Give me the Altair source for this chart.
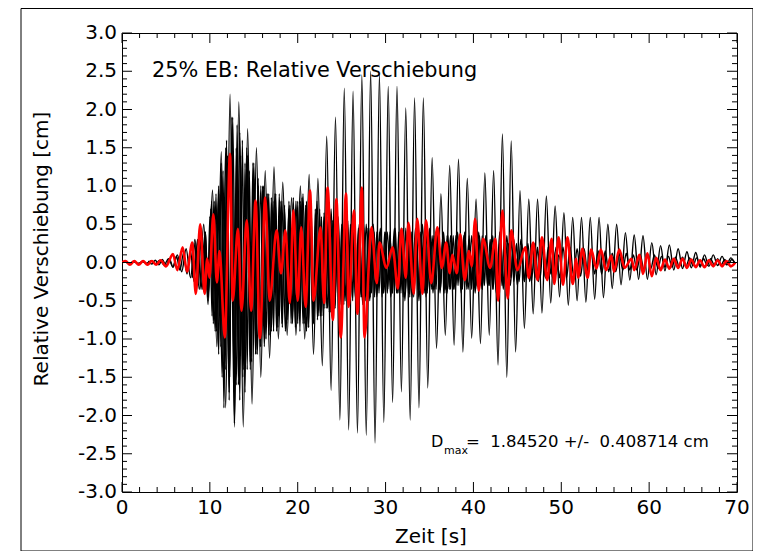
import altair as alt
import pandas as pd

FONT = "DejaVu Sans"

# ---- main (large amplitude) black trace: alternating extrema, half-period spacing
A_T0, A_HALF = 0.3, 0.5
A_VALS = [
    0.01, -0.01, 0.01, -0.01, 0.01, -0.01, 0.02, -0.02, 0.03, -0.03,
    0.05, -0.06, 0.1, -0.12, 0.18, -0.2, 0.3, -0.35, 0.5, -0.55,
    0.95, -1.1, 1.45, -1.9, 2.2, -2.15, 2.1, -2.15, 1.75, -1.85,
    1.5, -1.5, 1.2, -1.25, 1.25, -1.0, 1.05, -0.95, 0.85, -0.95,
    1.0, -1.0, 1.15, -1.2, 1.1, -1.35, 1.65, -1.67, 1.9, -2.06,
    2.28, -2.19, 2.24, -2.23, 2.45, -2.26, 2.5, -2.36, 2.46, -2.09,
    2.3, -1.83, 2.3, -1.69, 2.02, -2.06, 2.15, -1.9, 2.15, -1.64,
    1.37, -1.12, 0.9, -0.95, 1.27, -1.08, 1.35, -1.17, 1.1, -0.99,
    0.83, -1.06, 1.17, -0.95, 1.2, -1.34, 1.68, -1.5, 1.59, -1.17,
    0.94, -0.86, 0.83, -0.67, 0.83, -0.66, 0.87, -0.53, 0.74, -0.45,
    0.65, -0.56, 0.59, -0.5, 0.59, -0.52, 0.59, -0.48, 0.59, -0.46,
    0.5, -0.34, 0.5, -0.29, 0.39, -0.23, 0.36, -0.22, 0.35, -0.22,
    0.26, -0.16, 0.22, -0.11, 0.23, -0.1, 0.18, -0.08, 0.14, -0.07,
    0.13, -0.06, 0.1, -0.05, 0.1, -0.04, 0.08, -0.03, 0.06, -0.02,
]

# ---- second black trace
B_T0, B_HALF = 3.0, 0.4
B_VALS = [
    0.02, -0.02, 0.03, -0.03, 0.04, -0.04, 0.05, -0.06, 0.08, -0.1,
    0.12, -0.15, 0.15, -0.25, 0.3, -0.35, 0.35, -0.45, 0.8, -0.9,
    1.0, -1.5, 1.5, -1.7, 1.9, -1.6, 1.7, -1.4, 1.5, -1.4,
    1.3, -1.2, 1.0, -1.1, 0.9, -0.8, 0.9, -0.7, 0.8, -0.9,
    0.7, -0.8, 0.8, -0.7, 0.9, -0.9, 0.7, -0.8, 0.8, -0.7,
    0.6, -0.6, 0.7, -0.6, 0.6, -0.6, 0.55, -0.5, 0.6, -0.5,
    0.5, -0.55, 0.5, -0.5, 0.5, -0.45, 0.45, -0.4, 0.4, -0.45,
    0.45, -0.4, 0.45, -0.5, 0.5, -0.45, 0.45, -0.5, 0.5, -0.45,
    0.45, -0.4, 0.4, -0.4, 0.4, -0.4, 0.35, -0.35, 0.4, -0.4,
    0.4, -0.35, 0.35, -0.4, 0.4, -0.35, 0.35, -0.3, 0.35, -0.4,
    0.4, -0.35, 0.35, -0.3, 0.3, -0.3, 0.3, -0.25, 0.25, -0.25,
    0.25, -0.25, 0.25, -0.2, 0.2, -0.2, 0.2, -0.2, 0.2, -0.2,
    0.2, -0.18, 0.18, -0.18, 0.18, -0.15, 0.15, -0.15, 0.15, -0.15,
    0.15, -0.12, 0.12, -0.12, 0.12, -0.1, 0.12, -0.1, 0.1, -0.1,
    0.1, -0.1, 0.1, -0.08, 0.1, -0.08, 0.08, -0.06, 0.08, -0.06,
    0.07, -0.05, 0.07, -0.05, 0.06, -0.04, 0.06, -0.04, 0.05, -0.04,
    0.05, -0.03, 0.05, -0.03, 0.04, -0.03, 0.04, -0.02,
]

# ---- third black trace
C_T0, C_HALF = 8.0, 0.3
C_VALS = [
    -0.2, 0.25, -0.3, 0.3, -0.35, 0.4, -0.5, 0.7, -0.8, 0.9,
    -1.2, 1.3, -1.9, 1.6, -1.8, 1.9, -2.1, 1.8, -1.8, 1.6,
    -1.7, 1.4, -1.3, 1.3, -1.2, 1.1, -1.1, 1.0, -1.0, 0.9,
    -0.9, 0.8, -0.9, 0.9, -0.8, 0.7, -0.75, 0.75, -0.7, 0.7,
    -0.8, 0.8, -0.8, 0.75, -0.85, 0.8, -0.7, 0.7, -0.7, 0.6,
    -0.6, 0.6, -0.65, 0.55, -0.6, 0.6, -0.55, 0.5, -0.5, 0.55,
    -0.5, 0.5, -0.5, 0.45, -0.45, 0.5, -0.45, 0.45, -0.4, 0.4,
    -0.4, 0.4, -0.45, 0.4, -0.4, 0.35, -0.4, 0.45, -0.4, 0.4,
    -0.45, 0.45, -0.4, 0.4, -0.45, 0.4, -0.35, 0.35, -0.4, 0.4,
    -0.35, 0.35, -0.35, 0.4, -0.35, 0.3, -0.35, 0.35, -0.35, 0.35,
    -0.3, 0.3, -0.35, 0.35, -0.3, 0.3, -0.35, 0.35, -0.3, 0.35,
    -0.35, 0.3, -0.3, 0.3, -0.35, 0.35, -0.3, 0.3, -0.3, 0.25,
    -0.3, 0.3, -0.25, 0.25, -0.25, 0.25, -0.25, 0.2, -0.25, 0.25,
    -0.2, 0.2, -0.2, 0.2, -0.2, 0.2, -0.15, 0.15, -0.15, 0.1,
    -0.05,
]

# ---- fourth black trace (fast, fills the dense band)
D_T0, D_HALF = 9.0, 0.25
D_VALS = [
    0.3, -0.35, 0.4, -0.45, 0.6, -0.7, 0.8, -0.9, 0.9, -1.1,
    1.2, -1.4, 1.4, -1.5, 1.6, -1.7, 1.5, -1.6, 1.4, -1.5,
    1.3, -1.4, 1.2, -1.3, 1.1, -1.2, 1.0, -1.1, 1.0, -1.0,
    0.9, -0.95, 0.85, -0.9, 0.9, -0.85, 0.8, -0.85, 0.75, -0.8,
    0.8, -0.8, 0.85, -0.85, 0.8, -0.9, 0.85, -0.8, 0.8, -0.85,
    0.75, -0.8, 0.7, -0.75, 0.7, -0.7, 0.65, -0.6, 0.6, -0.65,
    0.55, -0.6, 0.55, -0.55, 0.5, -0.55, 0.5, -0.5, 0.5, -0.5,
    0.45, -0.5, 0.45, -0.45, 0.45, -0.5, 0.45, -0.45, 0.4, -0.45,
    0.4, -0.4, 0.35, -0.4, 0.4, -0.35, 0.4, -0.4, 0.35, -0.4,
    0.4, -0.4, 0.45, -0.4, 0.4, -0.45, 0.4, -0.4, 0.45, -0.4,
    0.4, -0.4, 0.35, -0.4, 0.4, -0.35, 0.35, -0.35, 0.4, -0.35,
    0.35, -0.4, 0.35, -0.35, 0.3, -0.35, 0.35, -0.3, 0.35, -0.35,
    0.3, -0.35, 0.35, -0.3, 0.3, -0.35, 0.3, -0.3, 0.35, -0.3,
    0.3, -0.3, 0.3, -0.35, 0.3, -0.3, 0.25, -0.3, 0.3, -0.25,
    0.25, -0.2, 0.15, -0.1, 0.05,
]

# ---- red trace (times and values of extrema)
R_T = [0.0, 0.4, 0.9, 1.4, 1.9, 2.4, 2.9, 3.4, 3.9, 4.4, 5.0, 5.8, 6.3, 6.9, 7.4,
       8.0, 8.4, 8.9, 9.4, 9.7, 9.95, 10.4, 10.8, 11.1, 11.7, 12.3, 12.6, 13.2, 13.6,
       14.2, 14.7, 15.2, 15.7, 16.3, 16.8, 17.6, 18.1, 18.6, 19.1, 19.5, 20.0, 20.4,
       20.9, 21.4, 21.8, 22.6, 23.0, 23.4, 24.0, 24.4, 24.9, 25.5, 25.8, 26.4, 26.8,
       27.3, 27.6, 28.4, 29.0, 29.3, 30.1, 30.8, 31.4, 31.8, 32.3, 32.6, 33.2, 33.6,
       34.2, 34.6, 35.2, 35.9, 36.4, 36.9, 37.3, 37.6, 38.1, 38.5, 39.0, 39.5, 39.8,
       40.2, 40.6, 41.1, 41.9, 42.5, 42.8, 43.3, 43.9, 44.3, 45.0, 45.9, 46.3, 46.8,
       47.3, 47.8, 48.4, 48.9, 49.2, 49.7, 50.2, 50.7, 51.3, 51.7, 51.9, 52.4, 53.0,
       53.4, 54.0, 54.5, 55.1, 55.7, 56.0, 56.6, 57.2, 58.0, 58.3, 58.9, 59.3, 59.8,
       60.3, 60.8, 61.3, 61.8, 62.3, 62.8, 63.3, 63.8, 64.3, 64.8, 65.3, 65.8, 66.3,
       66.8, 67.3, 67.8, 68.3, 68.8, 69.3, 69.8]
R_V = [0.0, 0.02, -0.03, 0.02, -0.03, 0.02, -0.03, 0.02, -0.03, 0.03, -0.05, 0.11, -0.1, 0.2, -0.12,
       0.26, -0.41, 0.5, -0.41, 0.05, -0.2, 0.63, -0.26, 0.15, -0.98, 1.42, -0.5, 0.44, -0.63,
       0.55, -0.63, 0.81, -0.99, 0.85, -0.5, 0.42, -0.14, 0.42, -0.53, 0.68, -0.5, 0.46,
       -0.58, 0.94, -0.5, 0.46, -0.53, 0.98, -0.75, 0.83, -0.98, 0.9, -0.58, 0.68, -0.67,
       0.98, -0.98, 0.46, -0.27, 0.26, -0.07, 0.2, -0.34, 0.44, -0.2, 0.52, -0.41, 0.57,
       -0.41, 0.55, -0.27, 0.46, -0.07, 0.26, -0.14, 0.1, -0.14, 0.37, -0.23, 0.15, -0.05,
       0.57, -0.37, 0.31, -0.07, 0.31, -0.5, 0.68, -0.47, 0.42, -0.1, 0.2, -0.2, 0.26,
       -0.23, 0.33, -0.23, 0.31, -0.28, 0.33, -0.29, 0.33, -0.28, 0.05, -0.2, 0.18, -0.2,
       0.17, -0.08, 0.17, -0.1, 0.09, -0.12, 0.17, -0.07, 0.05, -0.1, 0.1, -0.15, 0.12,
       -0.18, 0.06, -0.1, 0.04, -0.08, 0.05, -0.07, 0.05, -0.07, 0.04, -0.06, 0.03, -0.06,
       0.03, -0.05, 0.03, -0.05, 0.02, -0.05, 0.0]

# ---- axes: tick positions and tick labels
X_MAJOR = [0, 10, 20, 30, 40, 50, 60, 70]
X_LABELS = ["0", "10", "20", "30", "40", "50", "60", "70"]
X_MINOR = [2, 4, 6, 8, 12, 14, 16, 18, 22, 24, 26, 28, 32, 34, 36, 38,
           42, 44, 46, 48, 52, 54, 56, 58, 62, 64, 66, 68]
Y_MAJOR = [-3.0, -2.5, -2.0, -1.5, -1.0, -0.5, 0.0, 0.5, 1.0, 1.5, 2.0, 2.5, 3.0]
Y_LABELS = ["-3.0", "-2.5", "-2.0", "-1.5", "-1.0", "-0.5", "0.0", "0.5", "1.0",
            "1.5", "2.0", "2.5", "3.0"]
Y_MINOR = [round(-3.0 + 0.1 * k, 1) for k in range(61) if k % 5 != 0]

X_TITLE = "Zeit [s]"
Y_TITLE = "Relative Verschiebung [cm]"
TITLE_TEXT = "25% EB: Relative Verschiebung"
DMAX_TEXT = "=\u00a0 1.84520 +/-\u00a0 0.408714 cm"

W, H = 615, 459

rows = []
for name, t0, dt, vals in [("A", A_T0, A_HALF, A_VALS), ("B", B_T0, B_HALF, B_VALS),
                           ("C", C_T0, C_HALF, C_VALS), ("D", D_T0, D_HALF, D_VALS)]:
    for i, v in enumerate(vals):
        rows.append({"s": name, "t": round(t0 + dt * i, 3), "v": v})
black_df = pd.DataFrame(rows)
red_df = pd.DataFrame({"t": R_T, "v": R_V})

xs = alt.Scale(domain=[0, 70], nice=False, zero=False)
ys = alt.Scale(domain=[-3, 3], nice=False, zero=False)

black = alt.Chart(black_df).mark_line(color="black", strokeWidth=1.4, interpolate="monotone",
                                      clip=True).encode(
    x=alt.X("t:Q", scale=xs, axis=None),
    y=alt.Y("v:Q", scale=ys, axis=None),
    detail="s:N",
)
red = alt.Chart(red_df).mark_line(color="#ff0000", strokeWidth=2.6, interpolate="monotone",
                                  clip=True).encode(
    x=alt.X("t:Q", scale=xs, axis=None),
    y=alt.Y("v:Q", scale=ys, axis=None),
)

xmaj = pd.DataFrame({"t": X_MAJOR, "lab": X_LABELS})
xmin = pd.DataFrame({"t": X_MINOR})
ymaj = pd.DataFrame({"v": Y_MAJOR, "lab": Y_LABELS})
ymin = pd.DataFrame({"v": Y_MINOR})


def xticks(df, length):
    bot = alt.Chart(df).mark_rule(color="black", strokeWidth=1).encode(
        x=alt.X("t:Q", scale=xs, axis=None), y=alt.value(H), y2=alt.value(H - length))
    top = alt.Chart(df).mark_rule(color="black", strokeWidth=1).encode(
        x=alt.X("t:Q", scale=xs, axis=None), y=alt.value(0), y2=alt.value(length))
    return [bot, top]


def yticks(df, length):
    left = alt.Chart(df).mark_rule(color="black", strokeWidth=1).encode(
        y=alt.Y("v:Q", scale=ys, axis=None), x=alt.value(0), x2=alt.value(length))
    right = alt.Chart(df).mark_rule(color="black", strokeWidth=1).encode(
        y=alt.Y("v:Q", scale=ys, axis=None), x=alt.value(W), x2=alt.value(W - length))
    return [left, right]


x_labels = alt.Chart(xmaj).mark_text(font=FONT, fontSize=20, align="center", baseline="middle",
                                     color="black").encode(
    x=alt.X("t:Q", scale=xs, axis=None), y=alt.value(H + 16), text="lab:N")
y_labels = alt.Chart(ymaj).mark_text(font=FONT, fontSize=20, align="right", baseline="middle",
                                     color="black").encode(
    y=alt.Y("v:Q", scale=ys, axis=None), x=alt.value(-5), text="lab:N")

one = pd.DataFrame({"k": [0]})
x_title = alt.Chart(one).mark_text(text=X_TITLE, font=FONT, fontSize=20, align="center",
                                   baseline="middle", color="black").encode(
    x=alt.value(309), y=alt.value(504))
y_title = alt.Chart(one).mark_text(text=Y_TITLE, font=FONT, fontSize=20, align="center",
                                   baseline="middle", angle=270, color="black").encode(
    x=alt.value(-80), y=alt.value(216))
title_txt = alt.Chart(one).mark_text(text=TITLE_TEXT, font=FONT, fontSize=20.8, align="left",
                                     baseline="alphabetic", color="black").encode(
    x=alt.value(30), y=alt.value(44))
d_txt = alt.Chart(one).mark_text(text="D", font=FONT, fontSize=16, align="left",
                                 baseline="alphabetic", color="black").encode(
    x=alt.value(309), y=alt.value(414))
max_txt = alt.Chart(one).mark_text(text="max", font=FONT, fontSize=11, align="left",
                                   baseline="alphabetic", color="black").encode(
    x=alt.value(322), y=alt.value(421))
val_txt = alt.Chart(one).mark_text(text=DMAX_TEXT, font=FONT, fontSize=16.5, align="left",
                                   baseline="alphabetic", color="black").encode(
    x=alt.value(344), y=alt.value(414))

# outer frame (four rules)
FL, FR, FT, FB = -101, 631, -24.5, 518
frame = [
    alt.Chart(one).mark_rule(color="black", strokeWidth=1).encode(
        x=alt.value(FL), x2=alt.value(FR), y=alt.value(FT)),
    alt.Chart(one).mark_rule(color="black", strokeWidth=1).encode(
        x=alt.value(FL), x2=alt.value(FR), y=alt.value(FB)),
    alt.Chart(one).mark_rule(color="black", strokeWidth=1).encode(
        x=alt.value(FL), y=alt.value(FT), y2=alt.value(FB)),
    alt.Chart(one).mark_rule(color="black", strokeWidth=1).encode(
        x=alt.value(FR), y=alt.value(FT), y2=alt.value(FB)),
]

layers = [black, red] + xticks(xmaj, 10) + xticks(xmin, 5) + yticks(ymaj, 10) + \
    yticks(ymin, 5) + [x_labels, y_labels, x_title, y_title,
                       title_txt, d_txt, max_txt, val_txt] + frame

chart = alt.layer(*layers).properties(
    width=W, height=H,
    padding={"left": 114, "top": 25, "right": 16, "bottom": 59},
    autosize=alt.AutoSizeParams(type="none"),
    background="white",
).configure_view(stroke="black", strokeWidth=1).resolve_scale(x="shared", y="shared")

chart.save("out.html", embed_options={"renderer": "svg", "actions": False})
